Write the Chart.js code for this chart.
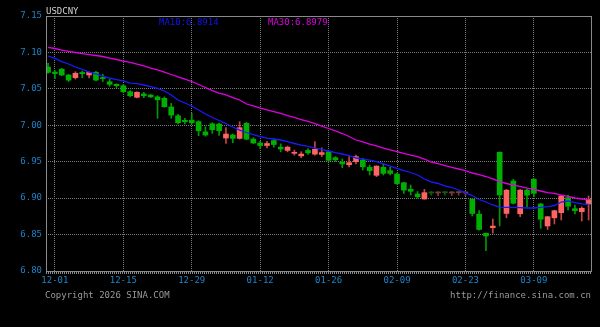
<!DOCTYPE html>
<html>
<head>
<meta charset="utf-8">
<script src="https://cdn.jsdelivr.net/npm/chart.js@4/dist/chart.umd.min.js"></script>
<style>
  html, body { margin: 0; padding: 0; background: #000; }
  canvas { display: block; }
</style>
</head>
<body>
<canvas id="kline" width="600" height="327"></canvas>
<script>
// daily USD/CNY candles, weekdays 11-28 .. 03-19
const dates = [
    '11-28',
    '12-01', '12-02', '12-03', '12-04', '12-05',
    '12-08', '12-09', '12-10', '12-11', '12-12',
    '12-15', '12-16', '12-17', '12-18', '12-19',
    '12-22', '12-23', '12-24', '12-25', '12-26',
    '12-29', '12-30', '12-31', '01-01', '01-02',
    '01-05', '01-06', '01-07', '01-08', '01-09',
    '01-12', '01-13', '01-14', '01-15', '01-16',
    '01-19', '01-20', '01-21', '01-22', '01-23',
    '01-26', '01-27', '01-28', '01-29', '01-30',
    '02-02', '02-03', '02-04', '02-05', '02-06',
    '02-09', '02-10', '02-11', '02-12', '02-13',
    '02-16', '02-17', '02-18', '02-19', '02-20',
    '02-23', '02-24', '02-25', '02-26', '02-27',
    '03-02', '03-03', '03-04', '03-05', '03-06',
    '03-09', '03-10', '03-11', '03-12', '03-13',
    '03-16', '03-17', '03-18', '03-19'
];

const open = [
    7.0800, 7.0730, 7.0770, 7.0690, 7.0653, 7.0725, 7.0690, 7.0727, 7.0655, 7.0598,
    7.0562, 7.0543, 7.0460, 7.0384, 7.0430, 7.0415, 7.0390, 7.0370, 7.0251, 7.0130,
    7.0068, 7.0070, 7.0050, 6.9910, 7.0020, 7.0017, 6.9825, 6.9867, 6.9820, 7.0027,
    6.9810, 6.9757, 6.9722, 6.9790, 6.9700, 6.9655, 6.9615, 6.9580, 6.9655, 6.9604,
    6.9600, 6.9637, 6.9555, 6.9495, 6.9458, 6.9500, 6.9523, 6.9423, 6.9313, 6.9423,
    6.9377, 6.9331, 6.9212, 6.9121, 6.9057, 6.8988, 6.9085, 6.9070, 6.9085, 6.9070,
    6.9075, 6.9070, 6.8985, 6.8780, 6.8518, 6.8595, 6.9630, 6.8790, 6.9235, 6.8785,
    6.9110, 6.9260, 6.8920, 6.8618, 6.8730, 6.8800, 6.9006, 6.8855, 6.8814, 6.8920
];
const high = [
    7.0850, 7.0750, 7.0780, 7.0700, 7.0735, 7.0745, 7.0735, 7.0740, 7.0700, 7.0630,
    7.0570, 7.0560, 7.0475, 7.0460, 7.0452, 7.0425, 7.0405, 7.0390, 7.0300, 7.0150,
    7.0095, 7.0165, 7.0063, 6.9980, 7.0035, 7.0030, 6.9970, 6.9880, 7.0050, 7.0040,
    6.9830, 6.9780, 6.9780, 6.9810, 6.9745, 6.9715, 6.9660, 6.9637, 6.9680, 6.9775,
    6.9690, 6.9650, 6.9570, 6.9537, 6.9570, 6.9590, 6.9547, 6.9455, 6.9445, 6.9469,
    6.9423, 6.9345, 6.9215, 6.9180, 6.9090, 6.9120, 6.9090, 6.9090, 6.9090, 6.9090,
    6.9090, 6.9090, 6.8990, 6.8828, 6.8520, 6.8714, 6.9635, 6.9120, 6.9260, 6.9120,
    6.9120, 6.9270, 6.8930, 6.8750, 6.8835, 6.9040, 6.9043, 6.8906, 6.8880, 6.9030
];
const low = [
    7.0717, 7.0640, 7.0680, 7.0600, 7.0634, 7.0653, 7.0650, 7.0610, 7.0600, 7.0535,
    7.0520, 7.0447, 7.0390, 7.0375, 7.0380, 7.0380, 7.0096, 7.0247, 7.0096, 7.0020,
    7.0020, 7.0020, 6.9857, 6.9850, 6.9890, 6.9860, 6.9750, 6.9760, 6.9810, 6.9800,
    6.9750, 6.9680, 6.9690, 6.9700, 6.9636, 6.9635, 6.9590, 6.9555, 6.9600, 6.9590,
    6.9570, 6.9500, 6.9505, 6.9418, 6.9430, 6.9470, 6.9386, 6.9318, 6.9295, 6.9318,
    6.9318, 6.9190, 6.9066, 6.9043, 6.9000, 6.8985, 6.9040, 6.9035, 6.9040, 6.9035,
    6.9040, 6.9035, 6.8755, 6.8560, 6.8278, 6.8518, 6.8618, 6.8730, 6.8920, 6.8745,
    6.8875, 6.9020, 6.8586, 6.8570, 6.8645, 6.8700, 6.8837, 6.8782, 6.8686, 6.8700
];
const close = [
    7.0726, 7.0710, 7.0690, 7.0620, 7.0714, 7.0708, 7.0726, 7.0620, 7.0640, 7.0562,
    7.0543, 7.0460, 7.0406, 7.0453, 7.0406, 7.0390, 7.0350, 7.0255, 7.0140, 7.0035,
    7.0050, 7.0035, 6.9925, 6.9867, 6.9940, 6.9925, 6.9880, 6.9820, 6.9967, 6.9810,
    6.9757, 6.9722, 6.9750, 6.9736, 6.9675, 6.9700, 6.9630, 6.9605, 6.9623, 6.9670,
    6.9625, 6.9520, 6.9525, 6.9470, 6.9487, 6.9570, 6.9430, 6.9377, 6.9440, 6.9340,
    6.9340, 6.9200, 6.9110, 6.9094, 6.9020, 6.9075, 6.9070, 6.9085, 6.9075, 6.9085,
    6.9085, 6.9085, 6.8790, 6.8570, 6.8480, 6.8617, 6.9043, 6.9110, 6.8930, 6.9110,
    6.9040, 6.9066, 6.8710, 6.8745, 6.8828, 6.9030, 6.8890, 6.8828, 6.8860, 6.8980
];

const ma10 = [
    7.0951, 7.0917, 7.0875, 7.0841, 7.0800, 7.0766, 7.0731, 7.0704, 7.0676, 7.0649,
    7.0628, 7.0608, 7.0580, 7.0573, 7.0553, 7.0530, 7.0505, 7.0471, 7.0416, 7.0347,
    7.0306, 7.0265, 7.0210, 7.0155, 7.0107, 7.0066, 7.0024, 6.9976, 6.9935, 6.9901,
    6.9873, 6.9846, 6.9825, 6.9812, 6.9798, 6.9775, 6.9750, 6.9729, 6.9709, 6.9688,
    6.9668, 6.9647, 6.9624, 6.9606, 6.9585, 6.9551, 6.9537, 6.9523, 6.9500, 6.9469,
    6.9441, 6.9410, 6.9379, 6.9352, 6.9318, 6.9263, 6.9222, 6.9201, 6.9167, 6.9146,
    6.9112, 6.9071, 6.9036, 6.8981, 6.8947, 6.8906, 6.8878, 6.8874, 6.8872, 6.8869,
    6.8865, 6.8865, 6.8872, 6.8883, 6.8899, 6.8947, 6.8961, 6.8940, 6.8920, 6.8914
];
const ma30 = [
    7.1068, 7.1054, 7.1033, 7.1013, 7.0999, 7.0985, 7.0971, 7.0958, 7.0944, 7.0923,
    7.0903, 7.0882, 7.0862, 7.0841, 7.0814, 7.0786, 7.0759, 7.0731, 7.0697, 7.0663,
    7.0635, 7.0601, 7.0560, 7.0519, 7.0477, 7.0443, 7.0416, 7.0381, 7.0347, 7.0292,
    7.0265, 7.0237, 7.0210, 7.0189, 7.0164, 7.0134, 7.0107, 7.0079, 7.0052, 7.0024,
    6.9990, 6.9956, 6.9922, 6.9887, 6.9846, 6.9798, 6.9771, 6.9743, 6.9716, 6.9688,
    6.9661, 6.9637, 6.9613, 6.9592, 6.9569, 6.9537, 6.9496, 6.9475, 6.9448, 6.9421,
    6.9400, 6.9379, 6.9345, 6.9324, 6.9297, 6.9263, 6.9228, 6.9201, 6.9180, 6.9160,
    6.9139, 6.9119, 6.9098, 6.9077, 6.9064, 6.9043, 6.9023, 6.9002, 6.8988, 6.8979
];

// spring festival closure, drawn faded
const holidays = ['02-16', '02-17', '02-18', '02-19', '02-20', '02-23'];

const xTickLabels = ['12-01', '12-15', '12-29', '01-12', '01-26', '02-09', '02-23', '03-09'];
const yTicks = [6.80, 6.85, 6.90, 6.95, 7.00, 7.05, 7.10, 7.15];

const symbol = 'USDCNY';
const maLabel10 = 'MA10:' + ma10[ma10.length - 1].toFixed(4);
const maLabel30 = 'MA30:' + ma30[ma30.length - 1].toFixed(4);

const MONO = '"DejaVu Sans Mono", "Liberation Mono", monospace';
const TICK_BLUE = '#1f82c8';

function candleColor(i, wick) {
    const isUp = close[i] >= open[i];
    const dim = holidays.includes(dates[i]);
    if (dim) return isUp ? '#7a3c3c' : '#0b5e0b';
    if (isUp) return wick ? '#c84444' : '#ff6464';
    return wick ? '#009a00' : '#00b000';
}

const bodies = dates.map((d, i) => ({ x: i, y: [open[i], close[i]] }));
const wicks = dates.map((d, i) => ({ x: i, y: [low[i], high[i]] }));

const frame = {
    id: 'frame',
    afterDraw(chart) {
        const { ctx, chartArea: a } = chart;
        ctx.save();
        ctx.strokeStyle = '#8a8a8a';
        ctx.lineWidth = 1;
        ctx.strokeRect(a.left + 0.5, a.top + 0.5, a.right - a.left, a.bottom - a.top);
        // ruler under the x axis
        ctx.beginPath();
        ctx.setLineDash([1, 1]);
        ctx.lineWidth = 2;
        ctx.moveTo(a.left, a.bottom + 2);
        ctx.lineTo(a.right + 1, a.bottom + 2);
        ctx.stroke();
        ctx.setLineDash([]);

        ctx.font = '9px ' + MONO;
        ctx.textBaseline = 'alphabetic';
        ctx.fillStyle = '#d0d0d0';
        ctx.textAlign = 'left';
        ctx.fillText(symbol, 46, 14);
        ctx.fillStyle = '#1414f0';
        ctx.fillText(maLabel10, 159, 25);
        ctx.fillStyle = '#e000e0';
        ctx.fillText(maLabel30, 268, 25);
        ctx.fillStyle = '#9a9a9a';
        ctx.fillText('Copyright 2026 SINA.COM', 45, 298);
        ctx.textAlign = 'right';
        ctx.fillText('http://finance.sina.com.cn', 591, 298);
        ctx.restore();
    }
};

new Chart(document.getElementById('kline'), {
    data: {
        datasets: [
            {
                type: 'line',
                label: 'MA10',
                data: ma10.map((v, i) => ({ x: i, y: v })),
                borderColor: '#1a1aff',
                borderWidth: 1.3,
                pointRadius: 0,
                tension: 0,
                order: 0
            },
            {
                type: 'line',
                label: 'MA30',
                data: ma30.map((v, i) => ({ x: i, y: v })),
                borderColor: '#e000e0',
                borderWidth: 1.3,
                pointRadius: 0,
                tension: 0,
                order: 1
            },
            {
                type: 'bar',
                label: 'body',
                data: bodies,
                backgroundColor: dates.map((d, i) => candleColor(i, false)),
                borderWidth: 0,
                barThickness: 5,
                minBarLength: 1,
                grouped: false,
                order: 2
            },
            {
                type: 'bar',
                label: 'wick',
                data: wicks,
                backgroundColor: dates.map((d, i) => candleColor(i, true)),
                borderWidth: 0,
                barThickness: 1,
                minBarLength: 1,
                grouped: false,
                order: 3
            }
        ]
    },
    options: {
        responsive: false,
        animation: false,
        devicePixelRatio: 1,
        layout: { padding: { left: 0, right: 9, top: 16, bottom: 0 } },
        plugins: {
            legend: { display: false },
            tooltip: { enabled: false }
        },
        scales: {
            x: {
                type: 'linear',
                offset: false,
                min: -0.3,
                max: 79.35,
                afterBuildTicks: (scale) => {
                    scale.ticks = xTickLabels.map(l => ({ value: dates.indexOf(l) }));
                },
                afterFit: (scale) => { scale.height = 56; },
                ticks: {
                    autoSkip: false,
                    maxRotation: 0,
                    padding: 4,
                    color: TICK_BLUE,
                    font: { family: MONO, size: 9 },
                    callback: (v) => dates[v]
                },
                grid: {
                    offset: false,
                    color: '#7c7c7c',
                    lineWidth: 1,
                    drawTicks: false
                },
                border: { display: false, dash: [1, 1] }
            },
            y: {
                min: 6.80,
                max: 7.15,
                afterBuildTicks: (scale) => {
                    scale.ticks = yTicks.map(v => ({ value: v }));
                },
                afterFit: (scale) => { scale.width = 46; },
                ticks: {
                    padding: 4,
                    color: TICK_BLUE,
                    font: { family: MONO, size: 9 },
                    callback: (v) => v.toFixed(2)
                },
                grid: {
                    color: '#7c7c7c',
                    lineWidth: 1,
                    drawTicks: false
                },
                border: { display: false, dash: [1, 1] }
            }
        }
    },
    plugins: [frame]
});
</script>
</body>
</html>
